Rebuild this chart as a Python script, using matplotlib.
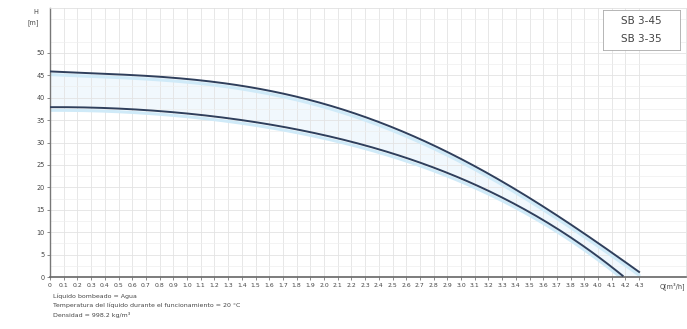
import numpy as np
import matplotlib
matplotlib.use('Agg')
import matplotlib.pyplot as plt

# ----- datos -----
q_45 = [0, 0.5, 1.0, 1.5, 2.0, 2.5, 3.0, 3.5, 4.0, 4.3]
h_45 = [45.8, 45.3, 44.2, 42.0, 38.5, 33.5, 26.5, 17.5, 7.5, 1.2]

q_35 = [0, 0.5, 1.0, 1.5, 2.0, 2.5, 3.0, 3.5, 4.0, 4.18]
h_35 = [37.9, 37.5, 36.5, 34.6, 31.6, 27.5, 22.0, 14.5, 4.5, 0.3]

series = ['SB 3-45', 'SB 3-35']
notas = ['Líquido bombeado = Agua',
         'Temperatura del líquido durante el funcionamiento = 20 °C',
         'Densidad = 998.2 kg/m³']

x_ticks = [round(i * 0.1, 1) for i in range(44)]
y_ticks = list(range(0, 55, 5))


def suavizar(q, h):
    # curva suave a traves de los puntos leidos
    qq = np.linspace(q[0], q[-1], 200)
    coef = np.polyfit(q, h, 4)
    return qq, np.polyval(coef, qq)


fig = plt.figure(figsize=(6.87, 3.29), dpi=100)
ax = fig.add_axes([50 / 687, 52 / 329, 636 / 687, 269 / 329])

ax.set_xlim(0, 636 / 137)
ax.set_ylim(0, 60)

# cuadricula
ax.set_xticks(x_ticks)
ax.set_xticklabels(['0' if v == 0 else f'{v:.1f}' for v in x_ticks], fontsize=4.4, color='#444444')
ax.set_yticks(y_ticks)
ax.set_yticklabels([str(v) for v in y_ticks], fontsize=4.7, color='#444444')
ax.set_yticks(np.arange(2.5, 60, 5), minor=True)
ax.grid(True, which='major', color='#e3e3e3', linewidth=0.6)
ax.grid(True, which='minor', axis='y', color='#eeeeee', linewidth=0.5)
ax.tick_params(axis='both', length=2, width=0.6, color='#777777', pad=2)
ax.tick_params(axis='y', which='minor', length=0)

for s in ['top', 'right']:
    ax.spines[s].set_color('#e0e0e0')
    ax.spines[s].set_linewidth(0.6)
ax.spines['left'].set_color('#777777')
ax.spines['left'].set_linewidth(1.0)
ax.spines['bottom'].set_color('#666666')
ax.spines['bottom'].set_linewidth(1.2)

qa, ha = suavizar(q_45, h_45)
qb, hb = suavizar(q_35, h_35)

# relleno claro entre curvas
hb_i = np.interp(qa, qb, hb, right=0)
ax.fill_between(qa, hb_i, ha, color='#f1f8fd', linewidth=0, zorder=1)

for qq, hh in [(qa, ha), (qb, hb)]:
    ax.plot(qq, hh - 0.7, color='#cfeaf8', linewidth=2.2, zorder=2, solid_capstyle='round')
    ax.plot(qq, hh, color='#2f3f5c', linewidth=1.4, zorder=3)

# titulos de ejes
ax.text(-0.018, 0.985, 'H', transform=ax.transAxes, ha='right', va='center', fontsize=4.7, color='#444444')
ax.text(-0.018, 0.945, '[m]', transform=ax.transAxes, ha='right', va='center', fontsize=4.7, color='#444444')
ax.text(610 / 636, -0.035, 'Q[m³/h]', transform=ax.transAxes, ha='left', va='center', fontsize=4.7, color='#444444')

# leyenda (solo texto)
leg = fig.add_axes([603 / 687, 1 - 50 / 329, 77 / 687, 40 / 329])
leg.set_xticks([])
leg.set_yticks([])
leg.set_facecolor('white')
for s in leg.spines.values():
    s.set_color('#aaaaaa')
    s.set_linewidth(0.6)
leg.text(0.5, 0.72, series[0], ha='center', va='center', fontsize=7.5, color='#444444')
leg.text(0.5, 0.28, series[1], ha='center', va='center', fontsize=7.5, color='#444444')

# notas al pie
for i, t in enumerate(notas):
    fig.text(53 / 687, 1 - (296 + i * 9.5) / 329, t, fontsize=4.5, color='#444444', va='center')

fig.savefig('out.png', dpi=100)
